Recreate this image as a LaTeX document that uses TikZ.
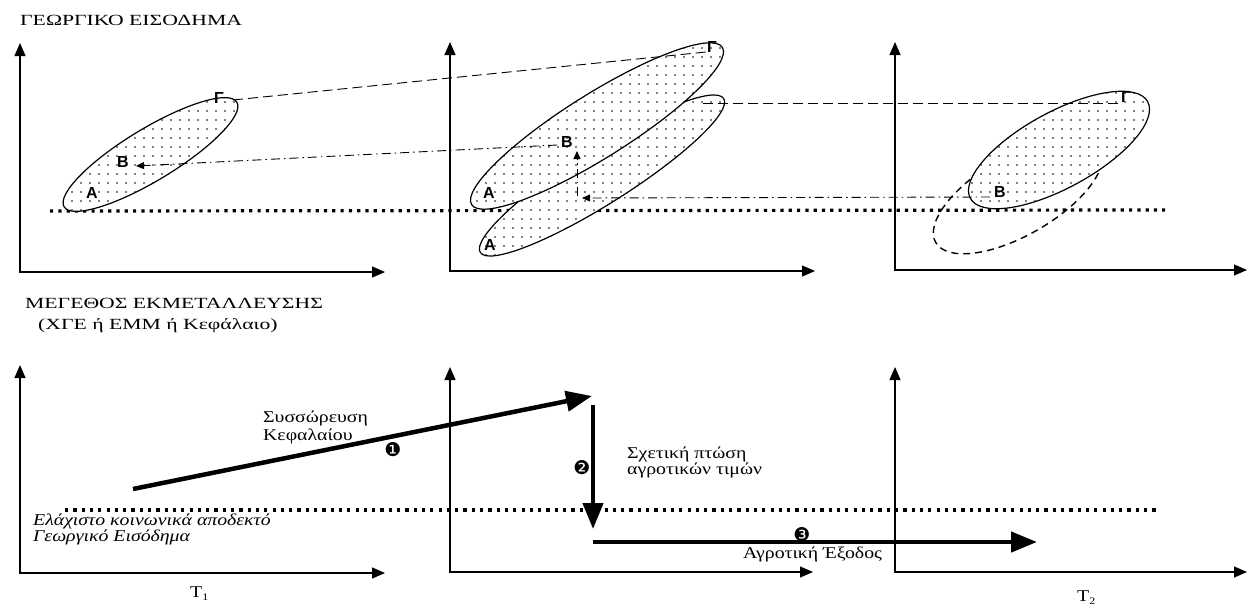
\documentclass[tikz,border=0pt]{standalone}
\usepackage{fontspec}
\setmainfont{Liberation Serif}[FakeStretch=1.2]
\newfontfamily\titlefont{Liberation Serif}[FakeStretch=1.4]
\newfontfamily\labfont{Liberation Sans}
\newfontfamily\symfont{DejaVu Sans}
\usetikzlibrary{arrows.meta,patterns.meta}
\tikzset{
  axis/.style={line width=1.3pt, {Triangle[length=13pt,width=11pt]}-{Triangle[length=13pt,width=11pt]}},
  floor/.style={line width=3.2pt, dash pattern=on 3.2pt off 5.1pt},
  cloud/.style={draw, line width=1.2pt, preaction={fill=white}, pattern={Dots[distance=9pt,radius=0.8pt]}, pattern color=black},
  ghost/.style={draw, line width=1.4pt, dash pattern=on 7pt off 5pt},
  link/.style={line width=0.9pt, dash pattern=on 10pt off 5pt},
  trace/.style={line width=0.9pt, dash pattern=on 9pt off 4pt on 1.5pt off 4pt, -{Triangle[length=8pt,width=7pt]}},
  lab/.style={font=\labfont\bfseries\fontsize{16}{16}\selectfont, inner sep=0pt},
  move/.style={line width=4.5pt, -{Triangle[length=26pt,width=20pt]}},
  txt/.style={font=\fontsize{16.5}{18}\selectfont, inner sep=0pt, anchor=base west},
  ttl/.style={font=\titlefont\fontsize{15.5}{18}\selectfont, inner sep=0pt, anchor=base west},
  num/.style={font=\symfont\fontsize{19}{19}\selectfont, inner sep=0pt}
}
\begin{document}
\begin{tikzpicture}[x=1pt,y=-1pt]
\useasboundingbox (0,0) rectangle (1248,606);
% ---------------- top panel ----------------
\node[ttl] (t1) at (20,25) {ΓΕΩΡΓΙΚΟ ΕΙΣΟΔΗΜΑ};
\coordinate (o1) at (20,272); \coordinate (y1) at (20,43); \coordinate (x1) at (385,272);
\coordinate (o2) at (450,271); \coordinate (y2) at (450,42); \coordinate (x2) at (815,271);
\coordinate (o3) at (895,270); \coordinate (y3) at (895,42); \coordinate (x3) at (1247,270);
\draw[axis] (y1) -- (o1) -- (x1);
\draw[axis] (y2) -- (o2) -- (x2);
\draw[axis] (y3) -- (o3) -- (x3);
\coordinate (fa) at (50,211); \coordinate (fb) at (1165,210);
\draw[floor] (fa) -- (fb);
% ellipses
\draw[cloud, shift={(150.5,154.5)}, rotate=31.2] (0,0) ellipse [x radius=101pt, y radius=26pt];
\draw[cloud, shift={(602,175.5)}, rotate=32.3] (0,0) ellipse [x radius=144pt, y radius=28pt];
\draw[cloud, shift={(597,126)}, rotate=32.1] (0,0) ellipse [x radius=148pt, y radius=32pt];
\draw[ghost, shift={(1018,195)}, rotate=30] (0,0) ellipse [x radius=95pt, y radius=40pt];
\draw[cloud, shift={(1059,150)}, rotate=28.6] (0,0) ellipse [x radius=101pt, y radius=38pt];
% labels
\node[lab] (G1) at (219,98) {Γ};
\node[lab] (B1) at (123,162) {Β};
\node[lab] (A1) at (92,193) {Α};
\node[lab] (G2) at (712,47) {Γ};
\node[lab] (B2) at (567,142) {Β};
\node[lab] (A2) at (489,193) {Α};
\node[lab] (A2b) at (490,245) {Α};
\node[lab] (G3) at (1126,97) {Γ};
\node[lab] (B3) at (1000,192) {Β};
% connectors
\coordinate (g1r) at (233,100); \coordinate (g2l) at (706,52);
\draw[link] (g1r) -- (g2l);
\coordinate (l2a) at (703,103); \coordinate (l2b) at (1120,103);
\draw[link] (l2a) -- (l2b);
\coordinate (b2l) at (557,145); \coordinate (b1r) at (136,166);
\draw[trace] (b2l) -- (b1r);
\coordinate (v0) at (577,196); \coordinate (v1) at (577,151);
\draw[trace] (v0) -- (v1);
\coordinate (b3l) at (990,197); \coordinate (v2) at (582,198);
\draw[trace] (b3l) -- (v2);
% ---------------- bottom panel ----------------
\node[ttl] (t2) at (25,308) {ΜΕΓΕΘΟΣ ΕΚΜΕΤΑΛΛΕΥΣΗΣ};
\node[ttl] (t3) at (38,329) {(ΧΓΕ ή ΕΜΜ ή Κεφάλαιο)};
\coordinate (p1) at (20,573); \coordinate (q1) at (20,365); \coordinate (r1) at (385,573);
\coordinate (p2) at (450,572); \coordinate (q2) at (450,367); \coordinate (r2) at (813,572);
\coordinate (p3) at (895,572); \coordinate (q3) at (895,367); \coordinate (r3) at (1247,572);
\draw[axis] (q1) -- (p1) -- (r1);
\draw[axis] (q2) -- (p2) -- (r2);
\draw[axis] (q3) -- (p3) -- (r3);
\coordinate (ga) at (65,510); \coordinate (gb) at (1158,510);
\draw[floor] (ga) -- (gb);
\coordinate (m1s) at (133,489); \coordinate (m1e) at (592,396);
\coordinate (m2s) at (593,405); \coordinate (m2e) at (593,529);
\coordinate (m3s) at (593,542); \coordinate (m3e) at (1037,542);
\draw[move] (m1s) -- (m1e);
\draw[move] (m2s) -- (m2e);
\draw[move] (m3s) -- (m3e);
\node[num] (n1) at (393,450) {❶};
\node[num] (n2) at (582,468) {❷};
\node[num] (n3) at (802,535) {❸};
\node[txt] (s1) at (263,422.5) {Συσσώρευση};
\node[txt] (s2) at (263,440) {Κεφαλαίου};
\node[txt] (s3) at (627,458) {Σχετική πτώση};
\node[txt] (s4) at (627,474) {αγροτικών τιμών};
\node[txt,font=\itshape\fontsize{16.5}{18}\selectfont] (s5) at (33,525) {Ελάχιστο κοινωνικά αποδεκτό};
\node[txt,font=\itshape\fontsize{16.5}{18}\selectfont] (s6) at (33,541) {Γεωργικό Εισόδημα};
\node[txt] (s7) at (743,558) {Αγροτική Έξοδος};
\node[txt] (T1) at (190,597) {T\raisebox{-3pt}{\fontsize{10}{10}\selectfont 1}};
\node[txt] (T2) at (1077,601) {T\raisebox{-3pt}{\fontsize{10}{10}\selectfont 2}};
\end{tikzpicture}
\end{document}
